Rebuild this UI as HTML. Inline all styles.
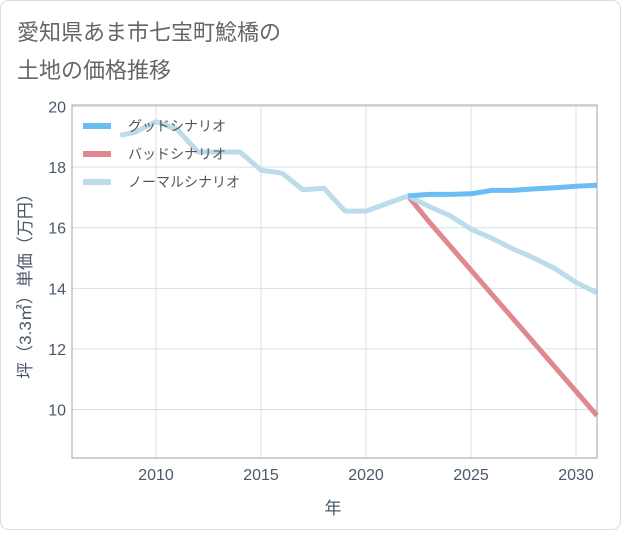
<!DOCTYPE html>
<html><head><meta charset="utf-8"><style>
body{margin:0;background:#fff;}
#wrap{position:relative;width:621px;height:530px;}
text{font-family:"Liberation Sans","Noto Sans CJK JP",sans-serif;}
</style></head><body>
<div id="wrap">
<svg id="chart" width="621" height="530">
<rect x="0.5" y="0.5" width="620" height="529" rx="8" fill="#fff" stroke="#ddd"/>
<text x="17" y="40" font-size="22" fill="#666">愛知県あま市七宝町鯰橋の</text>
<text x="17" y="78" font-size="22" fill="#666">土地の価格推移</text>
<g id="grid"></g><g id="series"></g><g id="axes"></g>
<text x="333" y="514" font-size="17" fill="#4a5868" text-anchor="middle">年</text>
<text transform="translate(31,282) rotate(-90)" font-size="17" fill="#4a5868" text-anchor="middle">坪（3.3㎡）単価（万円）</text>
<g>
<line x1="83" y1="126" x2="111" y2="126" stroke="#6bbdf5" stroke-width="6"/>
<text x="128" y="131" font-size="14" fill="#555">グッドシナリオ</text>
<line x1="83" y1="154" x2="111" y2="154" stroke="#e08890" stroke-width="6"/>
<text x="128" y="159" font-size="14" fill="#555">バッドシナリオ</text>
<line x1="83" y1="182" x2="111" y2="182" stroke="#bcdcea" stroke-width="6"/>
<text x="128" y="187" font-size="14" fill="#555">ノーマルシナリオ</text>
</g>
</svg></div>
<script>
const xTicks=[2010,2015,2020,2025,2030];
const yTicks=[10,12,14,16,18,20];
const normalYears=[2008.3,2009,2010,2011,2012,2013,2014,2015,2016,2017,2018,2019,2020,2021,2022,2023,2024,2025,2026,2027,2028,2029,2030,2031];
const normalValues=[19.05,19.15,19.5,19.25,18.5,18.5,18.5,17.9,17.8,17.25,17.3,16.55,16.55,16.8,17.05,16.7,16.4,15.95,15.65,15.3,15.0,14.65,14.2,13.85];
const futureYears=[2022,2023,2024,2025,2026,2027,2028,2029,2030,2031];
const goodValues=[17.05,17.1,17.1,17.12,17.23,17.23,17.28,17.32,17.37,17.4];
const badValues=[17.05,16.2,15.4,14.6,13.8,13.0,12.2,11.4,10.6,9.8];
const X0=72,X1=597,Y0=458,Y1=105;
const xs=y=>X0+(y-2006)/(2031-2006)*(X1-X0);
const ys=v=>Y0-(v-8.4)/(20.05-8.4)*(Y0-Y1);
const NS='http://www.w3.org/2000/svg';
function mk(tag,attrs,parent){const e=document.createElementNS(NS,tag);for(const k in attrs)e.setAttribute(k,attrs[k]);document.getElementById(parent).appendChild(e);return e;}
xTicks.forEach(t=>{
 const l=mk('line',{x1:xs(t),x2:xs(t),y1:Y1,y2:Y0,stroke:'#d5e0ea','stroke-width':1},'grid');
 
 
 const tx=mk('text',{x:xs(t),y:Y0+22,'font-size':16,fill:'#4a5868','text-anchor':'middle'},'axes');
 tx.textContent=t;
 
 
});
yTicks.forEach(t=>{
 const l=mk('line',{x1:X0,x2:X1,y1:ys(t),y2:ys(t),stroke:'#d5e0ea','stroke-width':1},'grid');
 
 
 const tx=mk('text',{x:X0-6,y:ys(t)+6,'font-size':16,fill:'#4a5868','text-anchor':'end'},'axes');
 tx.textContent=t;
 
 
});
const fr=mk('rect',{x:X0,y:Y1,width:X1-X0,height:Y0-Y1,fill:'none',stroke:'#9aa5b0','stroke-width':1},'axes');


function line(xv,yv,color,name){
 const d=xv.map((x,i)=>(i?'L':'M')+xs(x).toFixed(1)+','+ys(yv[i]).toFixed(1)).join('');
 const p=mk('path',{d:d,fill:'none',stroke:color,'stroke-width':5,'stroke-linejoin':'round'},'series');
 
 
}
line(futureYears,badValues,'#e08890','bad-scenario-line');
line(normalYears,normalValues,'#bcdcea','normal-scenario-line');
line(futureYears,goodValues,'#6bbdf5','good-scenario-line');
</script>
</body></html>
